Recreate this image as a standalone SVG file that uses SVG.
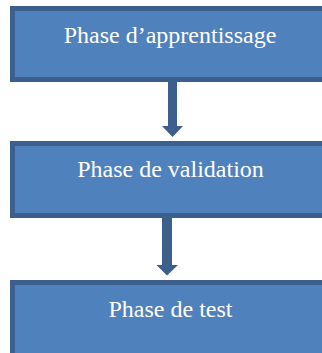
<svg xmlns="http://www.w3.org/2000/svg" width="322" height="353" viewBox="0 0 322 353">
<style>
.box{fill:#4f81bd;stroke:#3c5f8e;stroke-width:5}
.lbl{font-family:"Liberation Serif","Times New Roman",serif;font-size:24px;fill:#ffffff;text-anchor:middle}
.arr{fill:#3c5f8e}
</style>
<rect width="322" height="353" fill="#ffffff"/>
<g id="connectors">
<polygon class="arr" points="168,82 177,82 177,126 183,126 172.5,137 162,126 168,126"/>
<polygon class="arr" points="162,218 172,218 172,265 178,265 167,275.5 156.5,265 162,265"/>
</g>
<g id="node1">
<rect class="box" x="12.5" y="8.5" width="330" height="71"/>
<text class="lbl" x="170" y="43">Phase d’apprentissage</text>
</g>
<g id="node2">
<rect class="box" x="12.5" y="143.5" width="330" height="72"/>
<text class="lbl" x="170.5" y="177">Phase de validation</text>
</g>
<g id="node3">
<rect class="box" x="12.5" y="282.5" width="330" height="80"/>
<text class="lbl" x="170.5" y="317">Phase de test</text>
</g>
</svg>
